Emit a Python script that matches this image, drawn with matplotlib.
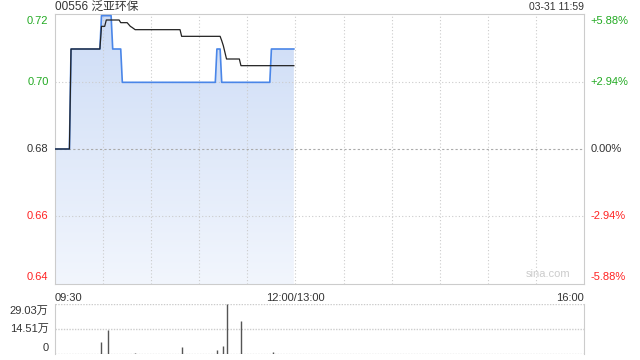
import numpy as np
import matplotlib
matplotlib.use("Agg")
import matplotlib.pyplot as plt
from matplotlib.colors import LinearSegmentedColormap

plt.rcParams['font.family'] = ['Liberation Sans', 'Noto Sans CJK SC', 'DejaVu Sans']

# price line (minutes after 09:30, lunch removed)
price_min = [0, 9, 10, 28, 29, 35, 36, 41, 42, 100, 101, 103, 104, 134, 135, 149]
price_val = [0.68, 0.68, 0.71, 0.71, 0.72, 0.72, 0.71, 0.71, 0.70, 0.70, 0.71, 0.71, 0.70, 0.70, 0.71, 0.71]

# average price line
avg_min = [0, 9, 10, 28, 29, 31, 32, 40, 41, 45, 47, 48, 50, 78, 79, 103, 104, 105, 107, 115, 116, 149]
avg_val = [0.68, 0.68, 0.71, 0.71, 0.7168, 0.7168, 0.7187, 0.7187, 0.7179, 0.7179, 0.7168, 0.7165, 0.7158,
           0.7158, 0.7138, 0.7138, 0.7125, 0.711, 0.707, 0.707, 0.705, 0.705]

# volume
vol_min = [29, 33, 50, 79, 101, 105, 107, 116, 136]
vol_val = [67000, 137000, 6000, 38000, 25000, 48000, 290300, 193000, 11600]

prev_close = 0.68
left_ticks = [0.72, 0.70, 0.68, 0.66, 0.64]
left_labels = ["0.72", "0.70", "0.68", "0.66", "0.64"]
right_labels = ["+5.88%", "+2.94%", "0.00%", "-2.94%", "-5.88%"]
vol_labels = ["29.03万", "14.51万", "0"]

green = "#22aa22"
red = "#ff2222"
dark = "#333333"
grid = "#cccccc"

fig = plt.figure(figsize=(6.4, 3.6), dpi=100)
ax = fig.add_axes([55/640, 1-284/360, 529/640, 270/360])
ymin, ymax = 0.6395, 0.7205
ax.set_xlim(0, 330)
ax.set_ylim(ymin, ymax)

# gradient fill under price
cmap = LinearSegmentedColormap.from_list("g", ["#f2f6fd", "#cddcf6"])
grad = np.linspace(0, 1, 256).reshape(-1, 1)
im = ax.imshow(grad, extent=[0, 149, ymin, ymax], origin="lower", aspect="auto", cmap=cmap, zorder=1)
poly = ax.fill_between(price_min, price_val, ymin, color="none", lw=0)
im.set_clip_path(poly.get_paths()[0], transform=ax.transData)

ax.plot(price_min, price_val, color="#4a86e8", lw=1.2, zorder=3)
ax.plot(avg_min, avg_val, color="#222222", lw=0.9, zorder=4)

for m in range(30, 330, 30):
    ax.axvline(m, color=grid, lw=0.8, ls=(0, (1, 2)), zorder=2)
for v in [0.70, 0.66]:
    ax.axhline(v, color=grid, lw=0.8, ls=(0, (1, 2)), zorder=2)
ax.axhline(prev_close, color="#aaaaaa", lw=0.8, ls=(0, (2, 2)), zorder=2)

for s in ax.spines.values():
    s.set_color(grid)
ax.set_xticks([])
ax.set_yticks([])

for t, lab, rlab in zip(left_ticks, left_labels, right_labels):
    c = green if t > prev_close else (red if t < prev_close else dark)
    yy = t
    if t == left_ticks[0]:
        yy = 0.7185
    if t == left_ticks[-1]:
        yy = 0.6415
    ax.text(-4, yy, lab, color=c, fontsize=8, ha="right", va="center")
    ax.text(334, yy, rlab, color=c, fontsize=8, ha="left", va="center")

ax.text(0, 1.026, "00556 泛亚环保", transform=ax.transAxes, fontsize=8.5, color=dark, ha="left", va="center")
ax.text(1, 1.026, "03-31 11:59", transform=ax.transAxes, fontsize=7.5, color=dark, ha="right", va="center")
ax.text(0.975, 0.02, "sina.com", transform=ax.transAxes, fontsize=8, color="#cccccc", ha="right", va="bottom")

ax.text(0, -0.035, "09:30", transform=ax.transAxes, fontsize=8, color=dark, ha="left", va="top")
ax.text(150, -0.035, "12:00/13:00", transform=ax.get_xaxis_transform(), fontsize=8, color=dark, ha="center", va="top")
ax.text(1, -0.035, "16:00", transform=ax.transAxes, fontsize=8, color=dark, ha="right", va="top")

# volume panel
vax = fig.add_axes([55/640, 1-354/360, 529/640, 50/360])
vax.set_xlim(0, 330)
vax.set_ylim(0, 290300)
vax.vlines(vol_min, 0, vol_val, color="#555555", lw=1)
for v in [290300, 145150, 0]:
    vax.axhline(v, color=grid, lw=1, ls=(0, (1, 1)), zorder=0)
vax.spines["top"].set_visible(False)
vax.spines["bottom"].set_visible(False)
vax.spines["left"].set_color(grid)
vax.spines["left"].set_linestyle((0, (1, 1)))
vax.spines["right"].set_color(grid)
vax.set_xticks([])
vax.set_yticks([])
vax.text(-4, 290300 * 0.86, vol_labels[0], fontsize=8, color=dark, ha="right", va="center")
vax.text(-4, 145150, vol_labels[1], fontsize=8, color=dark, ha="right", va="center")
vax.text(-4, 290300 * 0.12, vol_labels[2], fontsize=8, color=dark, ha="right", va="center")

fig.savefig("out.png", dpi=100)
